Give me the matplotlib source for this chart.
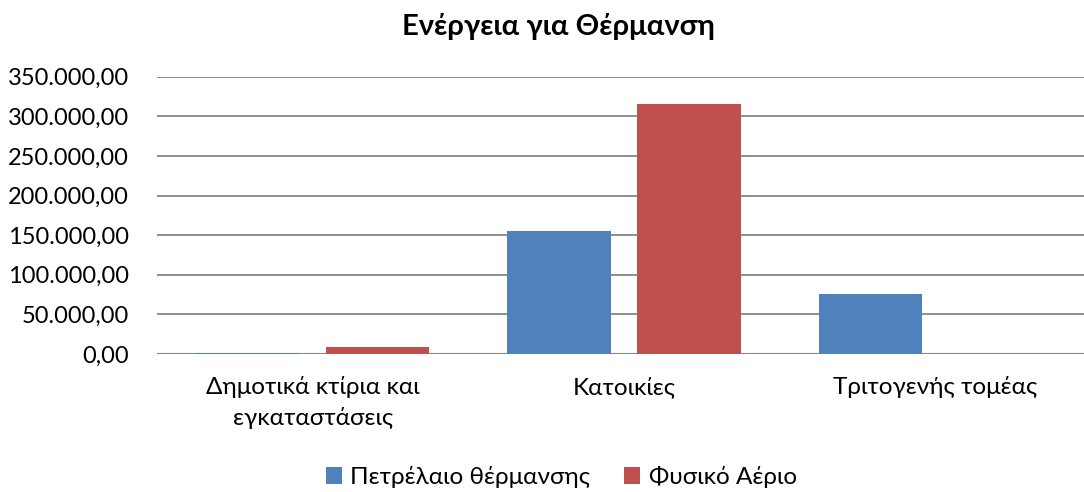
import matplotlib
matplotlib.use("Agg")
import matplotlib.pyplot as plt
from matplotlib.ticker import FuncFormatter, MultipleLocator
import numpy as np

plt.rcParams['font.family'] = ['Lato', 'Noto Sans', 'DejaVu Sans']

categories = ["Δημοτικά κτίρια και\nεγκαταστάσεις", "Κατοικίες", "Τριτογενής τομέας"]
series_names = ["Πετρέλαιο θέρμανσης", "Φυσικό Αέριο"]
oil = [1600, 155000, 75700]
gas = [8800, 316000, 0]
colors = ["#4F81BD", "#C0504D"]
title = "Ενέργεια για Θέρμανση"

W, H = 1084, 492
fig = plt.figure(figsize=(W / 100, H / 100), dpi=100)
left, right = 157 / W, 1091 / W
bottom, top = 1 - 354 / H, 1 - 76.7 / H
ax = fig.add_axes([left, bottom, right - left, top - bottom])

x = np.arange(len(categories))
bw = 0.331
off = (bw + 0.0867) / 2
ax.bar(x - off, oil, bw, color=colors[0], label=series_names[0], zorder=3)
ax.bar(x + off, gas, bw, color=colors[1], label=series_names[1], zorder=3)

ax.set_xlim(-0.5, len(categories) - 0.5)
ax.set_ylim(0, 350000)
ax.yaxis.set_major_locator(MultipleLocator(50000))

def fmt(v, pos):
    s = f"{v:,.2f}"
    return s.replace(",", "X").replace(".", ",").replace("X", ".")

ax.yaxis.set_major_formatter(FuncFormatter(fmt))
ax.set_axisbelow(True)
ax.grid(axis="y", color="#868686", linewidth=1.3)
for s in ["left", "right", "top", "bottom"]:
    ax.spines[s].set_visible(False)
ax.axhline(0, color="#868686", linewidth=1.5, zorder=2)

ax.set_xticks(x)
ax.set_xticklabels(categories, fontsize=17.5, linespacing=1.5, color="#000000")
ax.tick_params(axis="x", length=0, pad=16)
ax.tick_params(axis="y", length=0, pad=20, labelsize=17, labelcolor="#000000")

fig.text(558.5 / W, 1 - 27 / H, title, ha="center", va="center",
         fontsize=21, fontweight="bold")

handles, labels = ax.get_legend_handles_labels()
fig.legend(handles, labels, loc="center", bbox_to_anchor=(561.5 / W, 1 - 477 / H),
           ncol=2, frameon=False, fontsize=17.5, handlelength=0.65, handleheight=0.65,
           handletextpad=0.35, columnspacing=1.4)

fig.savefig("out.png", dpi=100)
